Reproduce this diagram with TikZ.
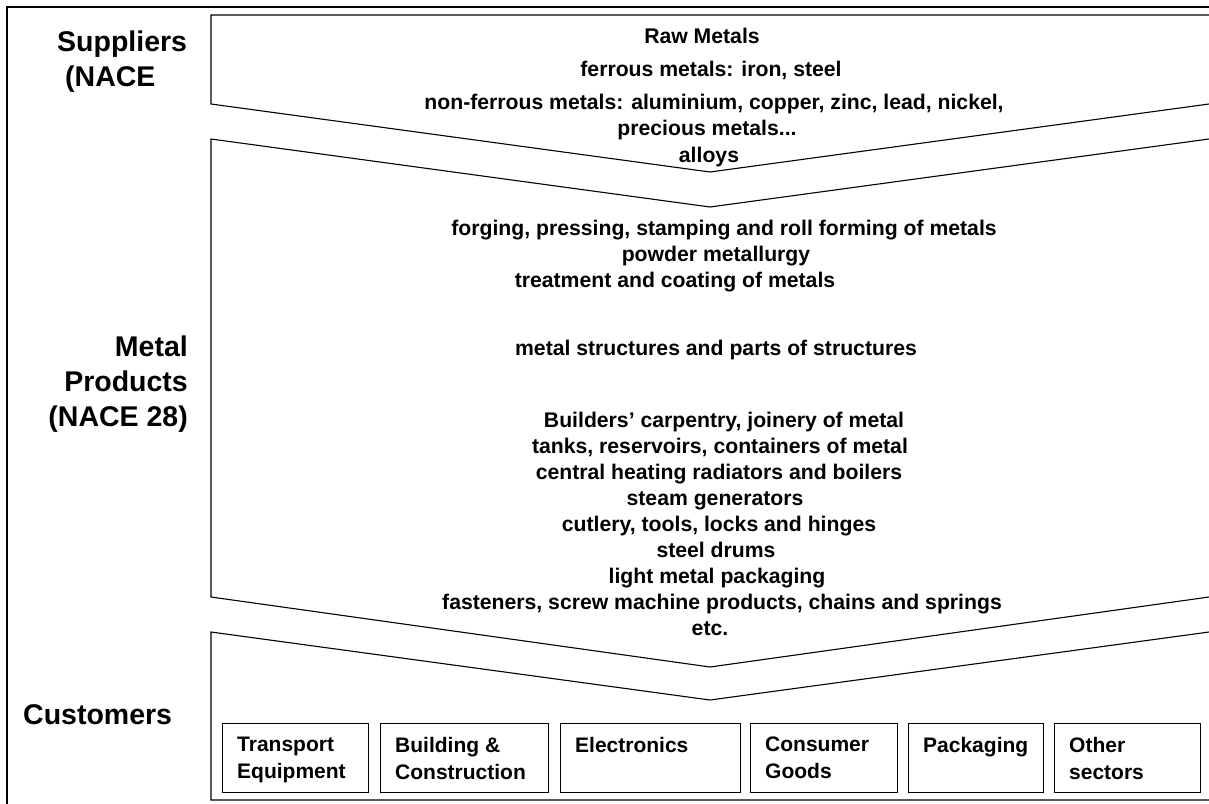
\documentclass[tikz,border=0pt]{standalone}
\usepackage{fontspec}
\setmainfont{Liberation Sans}
\begin{document}
\begin{tikzpicture}[x=1pt,y=-1pt,
  chev/.style={draw=black,line width=1.1pt,line join=miter},
  frame/.style={draw=black,line width=2pt},
  body/.style={font=\fontsize{21.2}{25}\selectfont\bfseries,inner sep=0pt,anchor=base},
  lab/.style={font=\fontsize{28.5}{35}\selectfont\bfseries,inner sep=0pt},
  custbox/.style={draw=black,line width=1.1pt,anchor=north west,inner sep=0pt,minimum height=69pt},
  btxt/.style={font=\fontsize{21}{27}\selectfont\bfseries,inner sep=0pt,anchor=north west,align=left}]
\useasboundingbox (0,0) rectangle (1209,803);
% outer frame
\draw[frame] (7,7) rectangle (1240,840);
% chevron 1 (suppliers)
\draw[chev] (1240,15) -- (211,15) -- (211,104) -- (710,172) -- (1209,104) -- (1240,99.8);
% chevron 2 (metal products)
\draw[chev] (1240,134.8) -- (1209,139) -- (710,207) -- (211,139) -- (211,597) -- (710,667) -- (1209,597) -- (1240,592.7);
% chevron 3 (customers)
\draw[chev] (1240,627.8) -- (1209,632) -- (710,700) -- (211,632) -- (211,800) -- (1240,800);

% left labels
\node[lab,anchor=north west,align=left] (sup) at (57,31) {Suppliers\\\hspace*{8pt}(NACE};
\node[lab,anchor=north east,align=right] (met) at (188,336) {Metal\\Products\\(NACE 28)};
\node[lab,anchor=north west] (cus) at (23,704) {Customers};

% supplier texts
\node[body] (s1) at (702,43.5) {Raw Metals};
\node[body] (s2) at (711,76.5) {ferrous metals: iron, steel};
\node[body] (s3) at (714,109.5) {non-ferrous metals: aluminium, copper, zinc, lead, nickel,};
\node[body] (s4) at (707,135.5) {precious metals...};
\node[body] (s5) at (709,162.5) {alloys};

% metal product texts
\node[body] (m1) at (724,235.5) {forging, pressing, stamping and roll forming of metals};
\node[body] (m2) at (716,261.5) {powder metallurgy};
\node[body] (m3) at (675,287.5) {treatment and coating of metals};
\node[body] (m4) at (716,355.5) {metal structures and parts of structures};
\node[body] (m5) at (724,427.5) {Builders’ carpentry, joinery of metal};
\node[body] (m6) at (720,453.5) {tanks, reservoirs, containers of metal};
\node[body] (m7) at (719,479.5) {central heating radiators and boilers};
\node[body] (m8) at (715,505.5) {steam generators};
\node[body] (m9) at (719,531.5) {cutlery, tools, locks and hinges};
\node[body] (m10) at (716,557.5) {steel drums};
\node[body] (m11) at (717,583.5) {light metal packaging};
\node[body] (m12) at (722,609.5) {fasteners, screw machine products, chains and springs};
\node[body] (m13) at (710,635.5) {etc.};

% customer boxes
\node[custbox,minimum width=146pt] (b1) at (222,723) {};
\node[custbox,minimum width=168pt] (b2) at (380,723) {};
\node[custbox,minimum width=180pt] (b3) at (560,723) {};
\node[custbox,minimum width=147pt] (b4) at (750,723) {};
\node[custbox,minimum width=135pt] (b5) at (908,723) {};
\node[custbox,minimum width=146pt] (b6) at (1054,723) {};
\node[btxt] (t1) at ([shift={(15,14)}]b1.north west) {Transport\\Equipment};
\node[btxt] (t2) at ([shift={(15,14)}]b2.north west) {Building \&\\Construction};
\node[btxt] (t3) at ([shift={(15,14)}]b3.north west) {Electronics};
\node[btxt] (t4) at ([shift={(15,14)}]b4.north west) {Consumer\\Goods};
\node[btxt] (t5) at ([shift={(15,14)}]b5.north west) {Packaging};
\node[btxt] (t6) at ([shift={(15,14)}]b6.north west) {Other\\sectors};
\end{tikzpicture}
\end{document}
